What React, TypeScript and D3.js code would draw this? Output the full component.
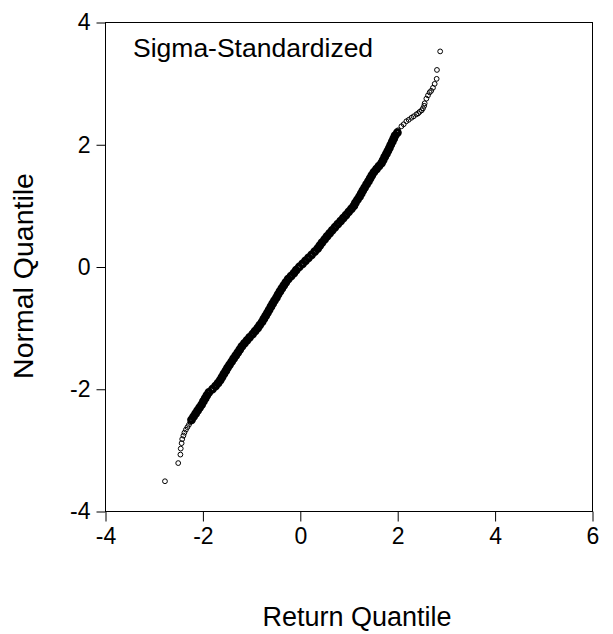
import { useRef, useEffect } from 'react'
import * as d3 from 'd3'

const WIDTH = 613
const HEIGHT = 634
const FONT = '"Liberation Sans", Arial, sans-serif'

const TITLE = 'Sigma-Standardized'
const X_LABEL = 'Return Quantile'
const Y_LABEL = 'Normal Quantile'
const X_TICKS = [-4, -2, 0, 2, 4, 6]
const Y_TICKS = [-4, -2, 0, 2, 4]

// lower tail, individual circles
const lowReturn = [-2.779, -2.507, -2.462, -2.455, -2.437, -2.425, -2.4, -2.379, -2.349, -2.318, -2.287, -2.256]
const lowNormal = [-3.505, -3.208, -3.069, -2.971, -2.882, -2.816, -2.759, -2.71, -2.661, -2.62, -2.58, -2.539]

// dense body of the plot (points overlap into a solid band)
const bodyReturn = [
  -2.234, -2.193, -2.15, -2.11, -2.068, -2.025, -1.99, -1.954, -1.918, -1.877,
  -1.805, -1.742, -1.69, -1.644, -1.607, -1.569, -1.53, -1.495, -1.454, -1.411,
  -1.37, -1.327, -1.284, -1.243, -1.2, -1.149, -1.095, -1.042, -0.981, -0.929,
  -0.876, -0.833, -0.786, -0.749, -0.712, -0.675, -0.64, -0.603, -0.568, -0.531,
  -0.49, -0.457, -0.418, -0.379, -0.338, -0.297, -0.25, -0.191, -0.131, -0.084,
  -0.023, 0.045, 0.105, 0.168, 0.232, 0.295, 0.355, 0.4, 0.445, 0.498,
  0.548, 0.601, 0.654, 0.71, 0.769, 0.827, 0.882, 0.938, 0.992, 1.048,
  1.099, 1.131, 1.172, 1.216, 1.25, 1.284, 1.321, 1.36, 1.399, 1.434,
  1.469, 1.51, 1.563, 1.614, 1.668, 1.701, 1.733, 1.767, 1.799, 1.83,
  1.858, 1.889, 1.918, 1.946, 1.994,
]
const bodyNormal = [
  -2.5, -2.45, -2.4, -2.35, -2.3, -2.25, -2.2, -2.15, -2.1, -2.05,
  -2.0, -1.95, -1.9, -1.85, -1.8, -1.75, -1.7, -1.65, -1.6, -1.55,
  -1.5, -1.45, -1.4, -1.35, -1.3, -1.25, -1.2, -1.15, -1.1, -1.05,
  -1.0, -0.95, -0.9, -0.85, -0.8, -0.75, -0.7, -0.65, -0.6, -0.55,
  -0.5, -0.45, -0.4, -0.35, -0.3, -0.25, -0.2, -0.15, -0.1, -0.05,
  0.0, 0.05, 0.1, 0.15, 0.2, 0.25, 0.3, 0.35, 0.4, 0.45,
  0.5, 0.55, 0.6, 0.65, 0.7, 0.75, 0.8, 0.85, 0.9, 0.95,
  1.0, 1.05, 1.1, 1.15, 1.2, 1.25, 1.3, 1.35, 1.4, 1.45,
  1.5, 1.55, 1.6, 1.65, 1.7, 1.75, 1.8, 1.85, 1.9, 1.95,
  2.0, 2.05, 2.1, 2.15, 2.2,
]

// upper tail, individual circles
const highReturn = [
  2.006, 2.076, 2.123, 2.178, 2.226, 2.281, 2.328, 2.384, 2.421, 2.451,
  2.492, 2.519, 2.544, 2.554, 2.589, 2.622, 2.656, 2.687, 2.724, 2.759,
  2.8, 2.806, 2.872,
]
const highNormal = [
  2.237, 2.302, 2.335, 2.384, 2.408, 2.441, 2.465, 2.498, 2.514, 2.539,
  2.563, 2.596, 2.637, 2.678, 2.754, 2.808, 2.857, 2.882, 2.931, 2.996,
  3.078, 3.224, 3.527,
]

export default function App() {
  const svgRef = useRef<SVGSVGElement>(null)

  useEffect(() => {
    if (!svgRef.current) return
    const el = d3.select(svgRef.current)
    el.selectAll('*').remove()

    const x = d3.scaleLinear().domain([-4, 6]).range([105.5, 592.5])
    const y = d3.scaleLinear().domain([-4, 4]).range([511.5, 22.5])
    const fmt = (d: d3.NumberValue) => String(d)

    // Frame
    el.append('rect')
      .attr('x', x(-4)).attr('y', y(4))
      .attr('width', x(6) - x(-4)).attr('height', y(-4) - y(4))
      .attr('fill', 'none').attr('stroke', '#000').attr('stroke-width', 1)

    // Y axis
    el.append('g')
      .attr('transform', `translate(${x(-4)},0)`)
      .call(d3.axisLeft(y).tickValues(Y_TICKS).tickSize(9).tickPadding(6).tickSizeOuter(0).tickFormat(fmt))
      .call((g) => {
        g.select('.domain').remove()
        g.selectAll('.tick line').attr('stroke', '#000')
        g.selectAll('text').attr('fill', '#000').attr('font-size', '23px').attr('font-family', FONT)
      })

    // X axis
    el.append('g')
      .attr('transform', `translate(0,${y(-4)})`)
      .call(d3.axisBottom(x).tickValues(X_TICKS).tickSize(10).tickPadding(6).tickSizeOuter(0).tickFormat(fmt))
      .call((g) => {
        g.select('.domain').remove()
        g.selectAll('.tick line').attr('stroke', '#000')
        g.selectAll('text').attr('fill', '#000').attr('font-size', '23px').attr('font-family', FONT)
      })

    // Points
    const pts = el.append('g').attr('fill', 'none').attr('stroke', '#000')
    const body = bodyReturn.map((v, i) => [v, bodyNormal[i]])
    pts.selectAll('.body')
      .data(body)
      .join('circle')
      .attr('class', 'body')
      .attr('cx', (d) => x(d[0])).attr('cy', (d) => y(d[1]))
      .attr('r', 2.7).attr('stroke-width', 3.4)

    const tails = [
      ...lowReturn.map((v, i) => [v, lowNormal[i]]),
      ...highReturn.map((v, i) => [v, highNormal[i]]),
    ]
    pts.selectAll('.tail')
      .data(tails)
      .join('circle')
      .attr('class', 'tail')
      .attr('cx', (d) => x(d[0])).attr('cy', (d) => y(d[1]))
      .attr('r', 2.4).attr('stroke-width', 1)

    // Title inside the frame
    el.append('text')
      .attr('x', 133).attr('y', 57)
      .attr('font-family', FONT).attr('font-size', '26.5px').attr('fill', '#000')
      .text(TITLE)

    // Axis titles
    el.append('text')
      .attr('x', 357).attr('y', 626)
      .attr('text-anchor', 'middle')
      .attr('font-family', FONT).attr('font-size', '27px').attr('fill', '#000')
      .text(X_LABEL)

    el.append('text')
      .attr('transform', `translate(33,276) rotate(-90)`)
      .attr('text-anchor', 'middle')
      .attr('font-family', FONT).attr('font-size', '28.5px').attr('fill', '#000')
      .text(Y_LABEL)
  }, [])

  return (
    <svg
      ref={svgRef}
      width={WIDTH}
      height={HEIGHT}
      style={{ position: 'absolute', left: 0, top: 0, background: '#fff' }}
    />
  )
}
